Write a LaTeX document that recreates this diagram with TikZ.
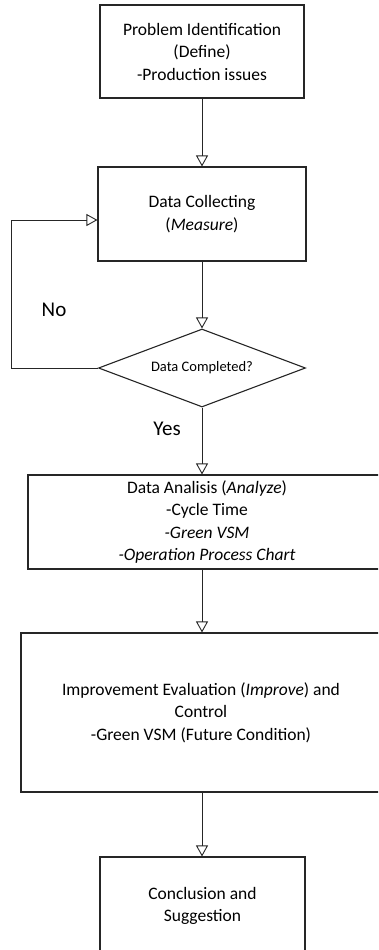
\documentclass[tikz,border=0pt]{standalone}
\usepackage{fontspec}
\setmainfont{Carlito}
\usetikzlibrary{positioning,arrows.meta,calc,shapes.geometric}
\definecolor{cLine}{HTML}{262626}

\tikzset{
  procbox/.style={draw=cLine,line width=1.1pt,inner sep=0pt,align=center,
                  font=\fontsize{17.5}{22.5}\selectfont},
  decbox/.style={draw=cLine,line width=1.1pt,diamond,inner sep=0pt,aspect=2.65,
                 font=\fontsize{14.5}{17}\selectfont},
  flow/.style={draw=cLine,line width=0.9pt,-{Triangle[open,length=11pt,width=12pt]}},
  answer/.style={font=\fontsize{21}{25}\selectfont}
}

\begin{document}
\begin{tikzpicture}[x=1pt,y=-1pt]
  \useasboundingbox (0,0) rectangle (378,950);
  \clip (0,0) rectangle (378,950);

  % boxes of the flow
  \node[procbox,minimum width=204pt,minimum height=93pt] (define) at (202,51.5)
    {Problem Identification\\(Define)\\-Production issues};
  \node[procbox,minimum width=208pt,minimum height=94pt] (measure) at (202,214)
    {Data Collecting\\(\textit{Measure})};
  \node[decbox,minimum width=207pt,minimum height=78pt] (check) at (202,368)
    {Data Completed?};
  \node[procbox,minimum width=358pt,minimum height=94pt] (analyze) at (207,522)
    {Data Analisis (\textit{Analyze})\\-Cycle Time\\\textit{-Green VSM}\\\textit{-Operation Process Chart}};
  \node[procbox,minimum width=360pt,minimum height=159pt] (improve) at (201,712.5)
    {Improvement Evaluation (\textit{Improve}) and\\Control\\-Green VSM (Future Condition)};
  \node[procbox,minimum width=205pt,minimum height=98pt] (conclude) at (202.5,906)
    {Conclusion and\\Suggestion};

  % answers
  \node[answer] (no) at (54,310) {No};
  \node[answer] (yes) at (167,429) {Yes};

  % connectors
  \coordinate (loopTop) at (11,220);
  \draw[flow] (define.south) -- (measure.north);
  \draw[flow] (measure.south) -- (check.north);
  \draw[flow] (check.west) -| (loopTop) -- (loopTop -| measure.west);
  \draw[flow] (check.south) -- (check.south |- analyze.north);
  \draw[flow] (check.south |- analyze.south) -- (check.south |- improve.north);
  \draw[flow] (check.south |- improve.south) -- (check.south |- conclude.north);
\end{tikzpicture}
\end{document}
